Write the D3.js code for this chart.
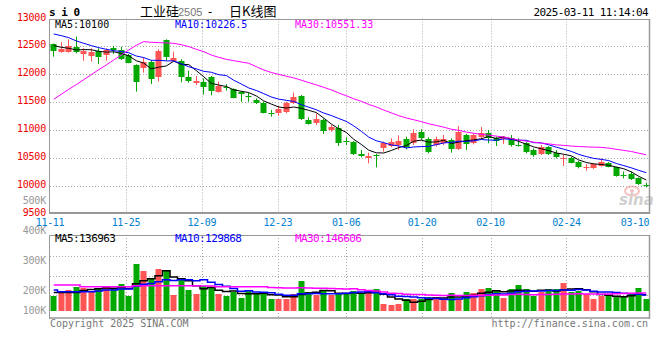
<!DOCTYPE html>
<html><head><meta charset="utf-8">
<script src="https://cdn.jsdelivr.net/npm/d3@7"></script>
<style>
body{margin:0;background:#fff}
svg{display:block}
text{font-family:"DejaVu Sans Mono",monospace}
</style>
</head><body>
<svg id="c" width="660" height="360"></svg>
<script>
// ---------------- data ----------------
const dates = [
"11-11","11-12","11-13","11-14","11-15","11-18","11-19","11-20","11-21","11-22","11-25","11-26","11-27","11-28","11-29",
"12-02","12-03","12-04","12-05","12-06","12-09","12-10","12-11","12-12","12-13","12-16","12-17","12-18","12-19","12-20","12-23","12-24","12-25","12-26","12-27","12-30","12-31",
"01-02","01-03","01-06","01-07","01-08","01-09","01-10","01-13","01-14","01-15","01-16","01-17","01-20","01-21","01-22","01-23","01-24","01-27",
"02-05","02-06","02-07","02-10","02-11","02-12","02-13","02-14","02-17","02-18","02-19","02-20","02-21","02-24","02-25","02-26","02-27","02-28",
"03-03","03-04","03-05","03-06","03-07","03-10","03-11"];
const open  = [12543,12405,12405,12483,12363,12327,12423,12345,12465,12435,12345,12166,12106,12226,11956,12614,12243,12243,11956,11848,
11855,11956,11687,11777,11729,11681,11609,11538,11490,11304,11298,11328,11490,11609,11179,11119,11179,11000,11029,10796,
10790,10568,10490,10556,10670,10712,10730,10832,10760,10969,10844,10730,10760,10820,10651,10909,10760,10868,10939,10850,
10832,10850,10736,10759,10640,10568,10687,10592,10472,10490,10430,10322,10310,10352,10412,10328,10197,10209,10131,10017];
const high  = [12550,12573,12626,12674,12465,12465,12465,12465,12507,12495,12363,12178,12303,12256,12447,12626,12405,12267,12064,11968,
11926,11968,11867,11825,11747,11699,11669,11567,11508,11358,11430,11508,11669,11627,11226,11298,11208,11089,11089,10868,
10800,10640,10592,10568,10790,10850,10903,10879,11011,11011,10868,10879,10909,10850,11071,10930,10939,11053,10999,10879,
10890,10909,10850,10789,10669,10729,10711,10640,10550,10520,10448,10388,10400,10490,10424,10340,10251,10251,10149,10053];
const low   = [12315,12387,12387,12375,12243,12226,12184,12243,12363,12255,12196,11687,12028,11825,11867,12243,12226,11855,11848,11807,
11639,11621,11669,11705,11568,11502,11508,11466,11298,11238,11250,11298,11466,11179,11095,11089,10927,10969,10712,10730,
10550,10508,10400,10328,10610,10690,10640,10651,10730,10820,10580,10699,10730,10592,10640,10640,10740,10820,10760,10712,
10748,10700,10699,10580,10520,10550,10550,10490,10352,10400,10310,10269,10298,10340,10328,10161,10131,10101,10011,9969];
const close = [12423,12453,12507,12405,12423,12405,12315,12435,12435,12267,12207,11867,12226,11908,12423,12315,12297,11944,11884,11884,
11765,11705,11789,11759,11574,11645,11585,11490,11310,11292,11382,11490,11585,11191,11107,11191,10987,11053,10772,10778,
10568,10532,10532,10538,10760,10790,10802,10700,10939,10850,10610,10832,10838,10651,10969,10740,10909,10939,10850,10802,
10868,10730,10718,10610,10550,10699,10568,10508,10490,10412,10328,10340,10388,10430,10340,10173,10185,10113,10029,10005];
const volume = [138000,180000,189000,213000,207000,183000,210000,225000,195000,243000,138000,423000,360000,285000,378000,360000,144000,285000,189000,153000,
225000,210000,153000,138000,174000,117000,189000,159000,159000,108000,108000,108000,153000,270000,171000,144000,180000,144000,159000,159000,
180000,159000,159000,198000,63000,54000,63000,108000,108000,108000,129000,129000,108000,159000,108000,171000,159000,198000,207000,180000,
117000,198000,234000,198000,138000,171000,198000,198000,255000,168000,183000,150000,108000,138000,132000,132000,126000,153000,207000,108000];

// moving-average values before the window
const ma5Lead  = [12513,12483,12465,12435];
const ma10Lead = [12722,12692,12656,12597,12555,12513,12477,12447,12423];
const ma30Lead = [11550,11639,11729,11813,11902,11992,12082,12166,12256,12345,12435,12519,12585,12573,12567,12561,12555,12531,12495,12447,
12405,12345,12303,12267,12243,12220,12196,12136,12076];
const vma5Lead  = [166000,166000,166000,166000];
const vma10Lead = [189000,174000,174000,174000,174000,174000,181000,189000,189000];
const vma30Lead = [234000,234000,234000,234000,218000,218000,218000,218000,218000,218000,218000,228000,228000,228000,228000,228000,228000,228000,228000,228000,
225000,225000,219000,219000,219000,219000,219000,219000,219000];

const priceTicks = [9500,10000,10500,11000,11500,12000,12500,13000];
const volTicks = [100000,200000,300000,400000,500000];
const volTickLabels = ["100K","200K","300K","400K","500K"];
const dateTicks = ["11-11","11-25","12-09","12-23","01-06","01-20","02-10","02-24","03-10"];
const priceMaLabels = ["MA5:10100","MA10:10226.5","MA30:10551.33"];
const volMaLabels = ["MA5:136963","MA10:129868","MA30:146606"];
const maColors = ["#000000","#0000ff","#ff00ff"];

// ---------------- drawing ----------------
const svg = d3.select("#c");
const RED = "#ff5555", GREEN = "#00a800", GRID = "#aaaaaa", AXIS = "#999999";
const L = 50, R = 650;

const xBand = d3.scaleBand().domain(dates).range([L, R]);
const xPoint = d3.scalePoint().domain(dates).range([L, R]);
const yP = d3.scaleLinear().domain([9500, 13000]).range([213.5, 18.5]);
const yV = d3.scaleLinear().domain([0, 500000]).range([311, 311 - 500000 / 9000]);
const volLabelY = d3.scaleLinear().domain([200000, 500000]).range([290.7, 200.5]);
const volGridY = d3.scaleLinear().domain([0, 4]).range([236, 315]);

const cx = d => Math.round(xBand(d)) + 3.5;
const up = i => close[i] >= open[i];

function ma(arr, n, lead) {
  return arr.map((_, i) => i < lead.length ? lead[i] : d3.mean(arr.slice(i - n + 1, i + 1)));
}

// watermark
const wm = svg.append("g").attr("opacity", 0.55);
wm.append("ellipse").attr("cx", 632).attr("cy", 191).attr("rx", 7).attr("ry", 4.5)
  .attr("fill", "none").attr("stroke", "#f09090").attr("stroke-width", 2);
wm.append("circle").attr("cx", 632).attr("cy", 191).attr("r", 2).attr("fill", "#f09090");
wm.append("text").attr("x", 619).attr("y", 205).attr("font-size", 15).attr("font-weight", "bold")
  .attr("font-style", "italic").attr("fill", "#aaaaaa").style("font-family", "'DejaVu Sans',sans-serif").text("sina");

// price grid
const gP = svg.append("g");
gP.selectAll(".hg").data(priceTicks.filter(v => v > 9500 && v < 13000)).join("line")
  .attr("x1", L).attr("x2", R).attr("y1", d => Math.round(yP(d)) + 0.5).attr("y2", d => Math.round(yP(d)) + 0.5)
  .attr("stroke", GRID).attr("stroke-dasharray", "1,2");
const vgDates = dateTicks.filter(d => xPoint(d) > L + 1 && xPoint(d) < R - 10);
gP.selectAll(".vg").data(vgDates).join("line")
  .attr("x1", d => Math.round(xPoint(d)) + 0.5).attr("x2", d => Math.round(xPoint(d)) + 0.5)
  .attr("y1", yP(13000)).attr("y2", yP(9500)).attr("stroke", GRID).attr("stroke-dasharray", "1,2");

// volume grid
const gV = svg.append("g");
gV.selectAll("line.h").data([1, 2, 3]).join("line")
  .attr("x1", L).attr("x2", R).attr("y1", d => Math.round(volGridY(d)) + 0.5).attr("y2", d => Math.round(volGridY(d)) + 0.5)
  .attr("stroke", GRID).attr("stroke-dasharray", "1,2");
gV.selectAll("line.v").data(vgDates).join("line")
  .attr("x1", d => Math.round(xPoint(d)) + 0.5).attr("x2", d => Math.round(xPoint(d)) + 0.5)
  .attr("y1", 235).attr("y2", 318).attr("stroke", GRID).attr("stroke-dasharray", "1,2");

// frames
const frame = svg.append("g").attr("stroke", AXIS).attr("fill", "none");
frame.append("line").attr("x1", L).attr("x2", R).attr("y1", 19.5).attr("y2", 19.5);
frame.append("line").attr("x1", L - 0.5).attr("x2", L - 0.5).attr("y1", 19).attr("y2", 214);
frame.append("line").attr("x1", R - 0.5).attr("x2", R - 0.5).attr("y1", 19).attr("y2", 214).attr("stroke-width", 1.5);
frame.append("line").attr("x1", L - 1).attr("x2", R).attr("y1", 213).attr("y2", 213).attr("stroke-width", 2);
frame.append("line").attr("x1", L).attr("x2", R).attr("y1", 235.5).attr("y2", 235.5);
frame.append("line").attr("x1", L - 0.5).attr("x2", L - 0.5).attr("y1", 235).attr("y2", 319);
frame.append("line").attr("x1", R - 0.5).attr("x2", R - 0.5).attr("y1", 235).attr("y2", 319).attr("stroke-width", 1.5);
frame.append("line").attr("x1", L - 1).attr("x2", R).attr("y1", 318).attr("y2", 318).attr("stroke-width", 1.5);

// candles
const gc = svg.append("g");
const idx = d3.range(dates.length);
gc.selectAll("line.w").data(idx).join("line")
  .attr("x1", i => cx(dates[i])).attr("x2", i => cx(dates[i]))
  .attr("y1", i => yP(high[i])).attr("y2", i => yP(low[i]))
  .attr("stroke", i => up(i) ? RED : GREEN).attr("stroke-width", 1);
gc.selectAll("rect").data(idx).join("rect")
  .attr("x", i => Math.round(xBand(dates[i])) + 0.5)
  .attr("width", 6)
  .attr("y", i => Math.round(yP(Math.max(open[i], close[i]))))
  .attr("height", i => Math.max(1, Math.round(yP(Math.min(open[i], close[i]))) - Math.round(yP(Math.max(open[i], close[i])))))
  .attr("fill", i => up(i) ? RED : GREEN);

// price MAs
const pMAs = [ma(close, 5, ma5Lead), ma(close, 10, ma10Lead), ma(close, 30, ma30Lead)];
const lineP = d3.line().x((d, i) => xBand(dates[i]) + xBand.bandwidth() / 2).y(d => yP(d));
svg.append("g").selectAll("path").data(pMAs).join("path")
  .attr("d", lineP).attr("fill", "none").attr("stroke", (d, k) => maColors[k]).attr("stroke-width", 1);

// volume bars
svg.append("g").selectAll("rect").data(idx).join("rect")
  .attr("x", i => Math.round(xBand(dates[i])) + 0.5).attr("width", 6)
  .attr("y", i => Math.round(yV(volume[i]))).attr("height", i => 311 - Math.round(yV(volume[i])))
  .attr("fill", i => up(i) ? RED : GREEN);

// volume MAs
const vMAs = [ma(volume, 5, vma5Lead), ma(volume, 10, vma10Lead), ma(volume, 30, vma30Lead)];
const lineV = d3.line().x((d, i) => xBand(dates[i]) + xBand.bandwidth() / 2).y(d => yV(d)).curve(d3.curveStep);
svg.append("g").selectAll("path").data(vMAs).join("path")
  .attr("d", lineV).attr("fill", "none").attr("stroke", (d, k) => maColors[k]).attr("stroke-width", 1.5);

// price axis labels
svg.append("g").selectAll("text").data(priceTicks).join("text")
  .attr("x", 46).attr("y", d => yP(d) - 1.5).attr("dy", "0.35em").attr("text-anchor", "end")
  .attr("font-size", 10).attr("fill", "#ee0000").attr("letter-spacing", -0.2).text(d => d);

// volume axis labels
svg.append("g").selectAll("text").data(volTicks).join("text")
  .attr("x", 46).attr("y", d => Math.min(volLabelY(d), 310.7)).attr("dy", "0.35em").attr("text-anchor", "end")
  .attr("font-size", 10).attr("fill", "#999999").attr("letter-spacing", -0.2).text((d, i) => volTickLabels[i]);

// date labels
svg.append("g").selectAll("text").data(dateTicks).join("text")
  .attr("x", d => Math.min(xPoint(d), R - 15)).attr("y", 222).attr("dy", "0.35em").attr("text-anchor", "middle")
  .attr("font-size", 10).attr("fill", "#0080d0").attr("letter-spacing", -0.3).text(d => d);

// MA headers
const hx = [55, 175, 295];
svg.append("g").selectAll("text").data(priceMaLabels).join("text")
  .attr("x", (d, i) => hx[i]).attr("y", 27.5).attr("font-size", 10).attr("fill", (d, i) => maColors[i]).text(d => d);
svg.append("g").selectAll("text").data(volMaLabels).join("text")
  .attr("x", (d, i) => hx[i]).attr("y", 242).attr("font-size", 11).attr("letter-spacing", -0.6)
  .attr("fill", (d, i) => maColors[i]).text(d => d);

// title row
svg.append("text").attr("x", 49).attr("y", 16).attr("font-size", 11).attr("font-weight", "bold")
  .attr("letter-spacing", -0.5).attr("fill", "#000").text("s i 0");
const cjk = "'Noto Sans CJK SC',sans-serif";
svg.append("text").attr("x", 140).attr("y", 16).attr("font-size", 13).style("font-family", cjk).attr("fill", "#000").text("工业硅");
svg.append("text").attr("x", 178).attr("y", 16).attr("font-size", 11).style("font-family", "'Liberation Sans',sans-serif")
  .attr("fill", "#777").text("2505");
svg.append("text").attr("x", 210).attr("y", 16).attr("font-size", 12).attr("text-anchor", "middle").attr("fill", "#000").text("-");
svg.append("text").attr("x", 229).attr("y", 16).attr("font-size", 13).style("font-family", cjk).attr("fill", "#000").text("日K线图");
svg.append("text").attr("x", 648).attr("y", 16).attr("font-size", 11).attr("letter-spacing", -0.6)
  .attr("text-anchor", "end").attr("fill", "#000").text("2025-03-11 11:14:04");

// footer
svg.append("text").attr("x", 50).attr("y", 327).attr("font-size", 10).attr("fill", "#777").text("Copyright 2025 SINA.COM");
svg.append("text").attr("x", 648).attr("y", 327).attr("font-size", 10).attr("text-anchor", "end").attr("fill", "#777")
  .text("http://finance.sina.com.cn");
</script>
</body></html>
